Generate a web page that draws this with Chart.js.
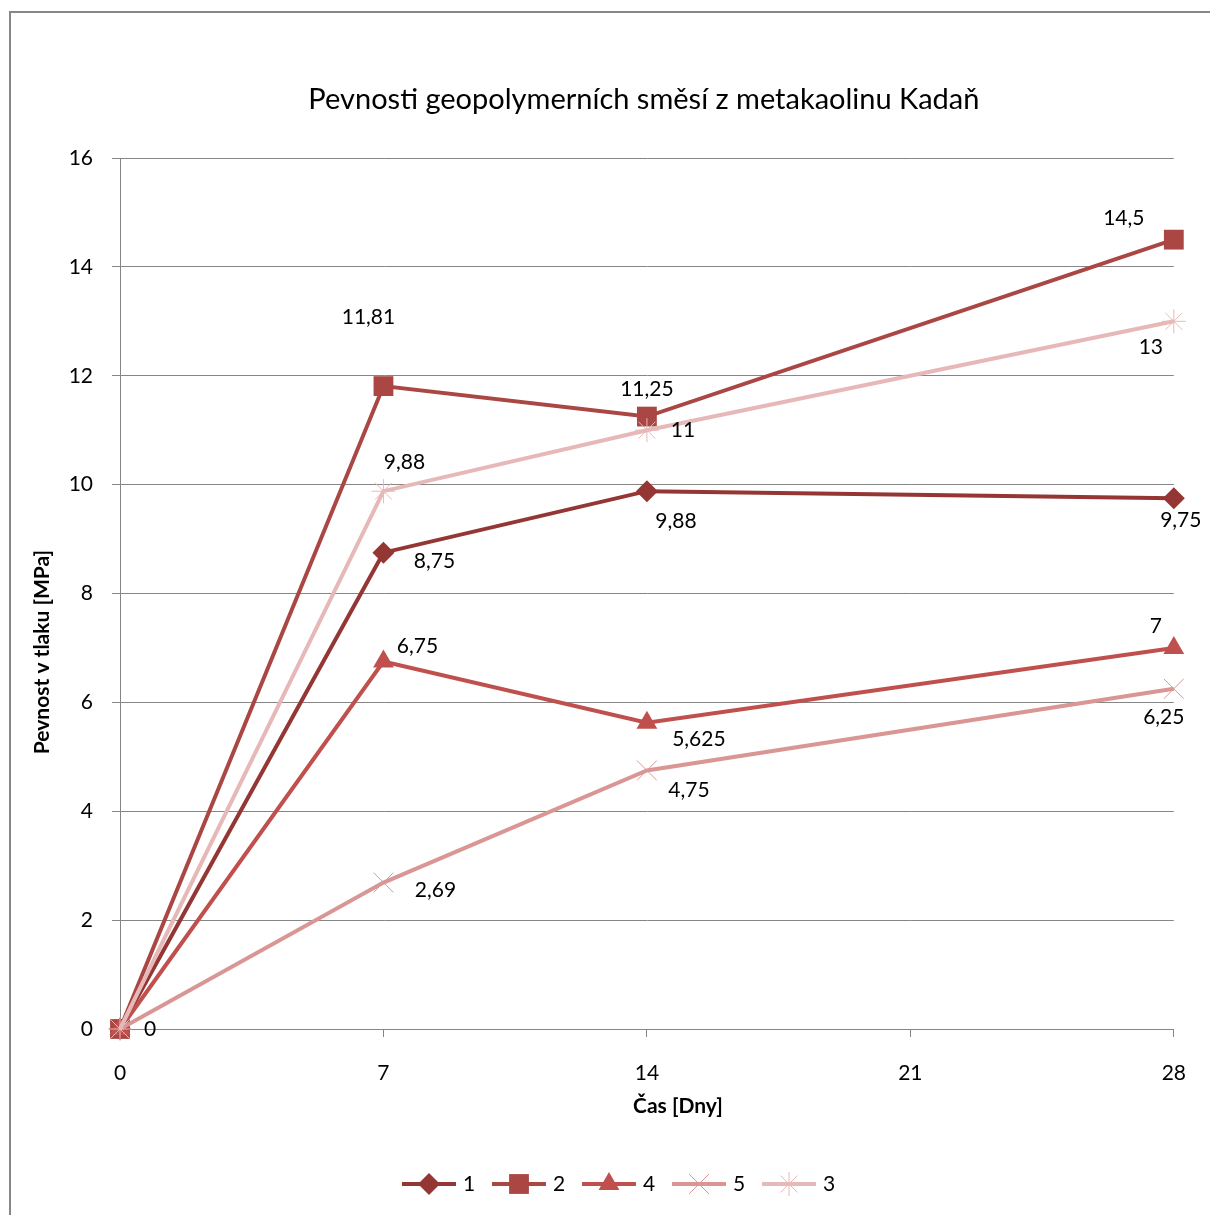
<!DOCTYPE html>
<html lang="cs">
<head>
<meta charset="utf-8">
<title>Pevnosti geopolymerních směsí z metakaolinu Kadaň</title>
<script src="https://cdn.jsdelivr.net/npm/chart.js@4.4.0/dist/chart.umd.min.js"></script>
<style>
  html, body { margin: 0; padding: 0; background: #fff; overflow: hidden; }
  #wrap { position: relative; width: 1210px; height: 1215px; }
  #frame { position: absolute; left: 9px; top: 11px; width: 1400px; height: 1400px;
           border-left: 2px solid #878787; border-top: 2px solid #878787; }
  #chart { position: absolute; left: 0; top: 0; }
</style>
</head>
<body>
<div id="wrap">
  <div id="frame"></div>
  <canvas id="chart" width="1210" height="1215"></canvas>
</div>
<script>
// Dny zkoušky a pevnosti v tlaku [MPa] jednotlivých směsí
const DAYS = [0, 7, 14, 28];
const X_TICKS = [0, 7, 14, 21, 28];
const SERIES_NAMES = ['1', '2', '4', '5', '3'];
const MIX_1 = [0, 8.75, 9.88, 9.75];
const MIX_2 = [0, 11.81, 11.25, 14.5];
const MIX_4 = [0, 6.75, 5.625, 7];
const MIX_5 = [0, 2.69, 4.75, 6.25];
const MIX_3 = [0, 9.88, 11, 13];
const SERIES_VALUES = [MIX_1, MIX_2, MIX_4, MIX_5, MIX_3];

const TITLE = 'Pevnosti geopolymerních směsí z metakaolinu Kadaň';
const X_TITLE = 'Čas [Dny]';
const Y_TITLE = 'Pevnost v tlaku [MPa]';

const FONT = 'Lato, "Open Sans", sans-serif';

// vzhled řad: barva, značka, velikost značky
const SERIES_STYLE = [
  { color: '#943634', marker: 'rectRot',  radius: 11 },
  { color: '#AA4643', marker: 'rect',     radius: 14 },
  { color: '#C0504D', marker: 'triangle', radius: 12 },
  { color: '#D99694', marker: 'crossRot', radius: 14 },
  { color: '#E6B9B8', marker: 'star',     radius: 12 }
];

// posun popisku hodnoty vůči bodu [dx, dy], null = bez popisku
const LABEL_OFFSETS = [
  [[30, 0], [51, 9], [29, 30], [7, 22]],
  [null, [-15, -69], [0, -27], [-50, -21]],
  [null, [34, -15], [52, 16], [-18, -22]],
  [null, [52, 8], [42, 20], [-10, 28]],
  [null, [21, -29], [36, 0], [-23, 26]]
];

const fmt = v => String(v).replace('.', ',');

const isLineMarker = m => m === 'crossRot' || m === 'star';

const datasets = SERIES_VALUES.map((vals, i) => {
  const s = SERIES_STYLE[i];
  return {
    label: SERIES_NAMES[i],
    data: DAYS.map((d, k) => ({ x: d, y: vals[k] })),
    borderColor: s.color,
    backgroundColor: s.color,
    borderWidth: 4,
    pointStyle: s.marker,
    pointRadius: s.radius,
    pointHoverRadius: s.radius,
    pointBackgroundColor: s.color,
    pointBorderColor: s.color,
    pointBorderWidth: isLineMarker(s.marker) ? 1 : 0,
    tension: 0,
    clip: false,
    order: SERIES_VALUES.length - i   // poslední řada leží nahoře
  };
});

function drawMarker(ctx, s, x, y) {
  ctx.save();
  ctx.fillStyle = s.color;
  ctx.strokeStyle = s.color;
  const bw = isLineMarker(s.marker) ? 1 : 0;
  ctx.lineWidth = bw;
  Chart.helpers.drawPoint(ctx, { pointStyle: s.marker, radius: s.radius, rotation: 0, borderWidth: bw }, x, y);
  ctx.restore();
}

const decorPlugin = {
  id: 'decor',
  afterDatasetsDraw(chart) {
    const ctx = chart.ctx;
    ctx.save();
    ctx.font = '21px ' + FONT;
    ctx.fillStyle = '#000';
    ctx.textAlign = 'center';
    ctx.textBaseline = 'middle';
    chart.data.datasets.forEach((ds, i) => {
      const meta = chart.getDatasetMeta(i);
      meta.data.forEach((pt, k) => {
        const off = LABEL_OFFSETS[i][k];
        if (!off) return;
        ctx.fillText(fmt(ds.data[k].y), pt.x + off[0], pt.y + off[1]);
      });
    });
    ctx.restore();
  },
  afterDraw(chart) {
    const ctx = chart.ctx;
    const area = chart.chartArea;
    ctx.save();
    ctx.fillStyle = '#000';
    ctx.textAlign = 'center';
    ctx.textBaseline = 'middle';

    // nadpis grafu
    ctx.font = '29px ' + FONT;
    ctx.fillText(TITLE, (area.left + area.right) / 2 - 3, 100);

    // popisky os
    ctx.font = 'bold 21px ' + FONT;
    ctx.fillText(X_TITLE, 678, 1106);
    ctx.save();
    ctx.translate(42, 652);
    ctx.rotate(-Math.PI / 2);
    ctx.fillText(Y_TITLE, 0, 0);
    ctx.restore();

    // legenda: čára se značkou a název řady
    const ly = 1184, step = 90, lineLen = 54;
    let lx = 402;
    ctx.font = '21px ' + FONT;
    ctx.textAlign = 'left';
    chart.data.datasets.forEach((ds, i) => {
      const s = SERIES_STYLE[i];
      ctx.strokeStyle = s.color;
      ctx.lineWidth = 4;
      ctx.beginPath();
      ctx.moveTo(lx, ly);
      ctx.lineTo(lx + lineLen, ly);
      ctx.stroke();
      drawMarker(ctx, s, lx + lineLen / 2, ly);
      ctx.fillStyle = '#000';
      ctx.fillText(ds.label, lx + lineLen + 7, ly);
      lx += step;
    });
    ctx.restore();
  }
};

new Chart(document.getElementById('chart'), {
  type: 'line',
  data: { datasets },
  options: {
    responsive: false,
    animation: false,
    devicePixelRatio: 1,
    layout: { padding: { top: 158, right: 35, bottom: 0, left: 0 } },
    plugins: { legend: { display: false }, title: { display: false }, tooltip: { enabled: false } },
    scales: {
      x: {
        type: 'linear', min: 0, max: 28,
        afterBuildTicks: s => { s.ticks = X_TICKS.map(v => ({ value: v })); },
        afterFit: s => { s.height = 186; },
        grid: { drawOnChartArea: false, drawTicks: true, tickLength: 8, color: '#868686', lineWidth: 1 },
        border: { display: true, color: '#868686', width: 1 },
        ticks: { color: '#000', font: { family: FONT, size: 21 }, padding: 24, maxRotation: 0 }
      },
      y: {
        min: 0, max: 16,
        ticks: { stepSize: 2, color: '#000', font: { family: FONT, size: 21 }, padding: 19 },
        afterFit: s => { s.width = 120; },
        grid: { drawTicks: true, tickLength: 8, color: '#868686', lineWidth: 1 },
        border: { display: true, color: '#868686', width: 1 }
      }
    }
  },
  plugins: [decorPlugin]
});
</script>
</body>
</html>
